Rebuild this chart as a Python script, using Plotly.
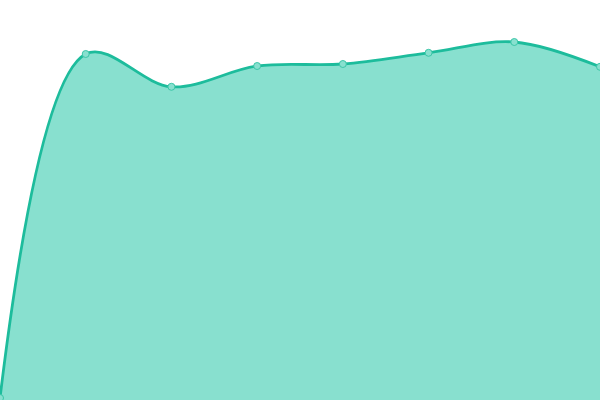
import plotly.graph_objects as go

x_vals = [0, 1, 2, 3, 4, 5, 6, 7]
y_vals = [0.5, 86.5, 78.3, 83.5, 84.0, 86.8, 89.5, 83.3]

line_color = '#1dbc9c'
fill_color = '#88e0cf'

fig = go.Figure(go.Scatter(
    x=x_vals,
    y=y_vals,
    mode='lines+markers',
    fill='tozeroy',
    fillcolor=fill_color,
    line=dict(color=line_color, width=2.8, shape='spline', smoothing=1),
    marker=dict(size=7, color=fill_color, line=dict(color='#3cc6a8', width=1)),
    hoverinfo='skip',
))

fig.update_layout(
    width=600,
    height=400,
    margin=dict(l=0, r=0, t=0, b=0),
    paper_bgcolor='white',
    plot_bgcolor='white',
    showlegend=False,
    xaxis=dict(visible=False, range=[0, 7]),
    yaxis=dict(visible=False, range=[0, 100]),
)

# page body has a default 8px margin; drop it so the chart fills the window
fig.write_html(
    "out.html",
    config={'displayModeBar': False},
    post_script="document.body.style.margin='0';",
)
